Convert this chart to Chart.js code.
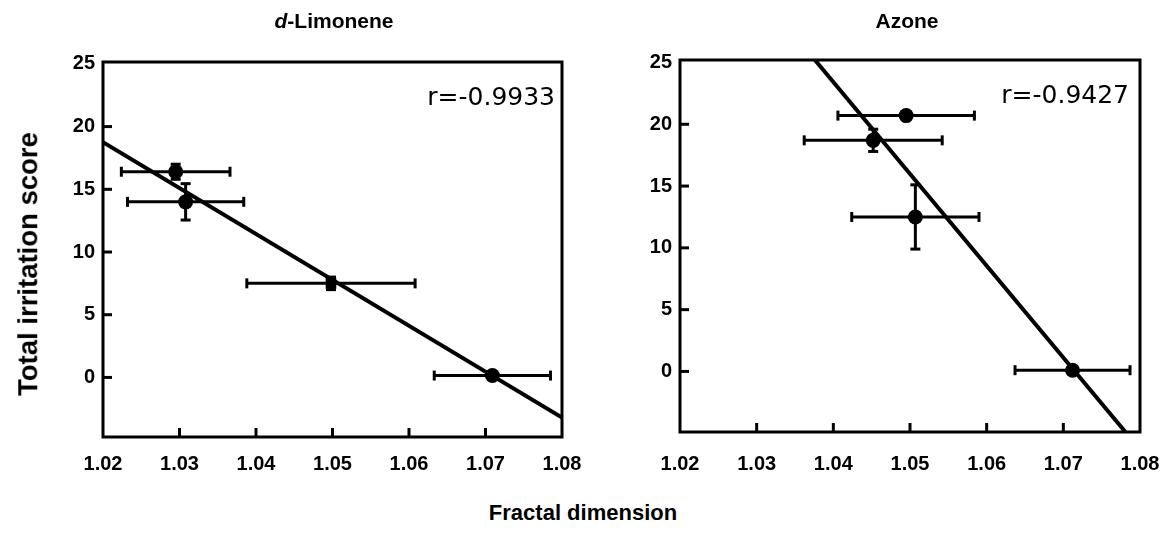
<!DOCTYPE html>
<html><head><meta charset="utf-8">
<script src="https://cdn.jsdelivr.net/npm/chart.js@4"></script>
<style>
body{margin:0;background:#fff;width:1164px;height:547px;position:relative;overflow:hidden;font-family:"Liberation Sans",Arial,sans-serif;color:#000;}
canvas{position:absolute;top:0;}
.t{position:absolute;white-space:nowrap;transform:translate(-50%,-50%);line-height:1;font-weight:bold;}
</style></head><body>
<canvas id="c1" width="582" height="500" style="left:0px"></canvas>
<canvas id="c2" width="582" height="500" style="left:582px"></canvas>
<div class="t" style="left:334px;top:20px;font-size:21px;"><i>d</i>-Limonene</div>
<div class="t" style="left:907px;top:20px;font-size:21px;">Azone</div>
<div class="t" style="left:28px;top:264px;font-size:27.5px;transform:translate(-50%,-50%) rotate(-90deg);">Total irritation score</div>
<div class="t" style="left:583px;top:513px;font-size:22px;">Fractal dimension</div>
<script>
// ---- data ----
const xTickValues = [1.02, 1.03, 1.04, 1.05, 1.06, 1.07, 1.08];
const yTickValues = [0, 5, 10, 15, 20, 25];

const limX    = [1.0295, 1.0308, 1.0498, 1.0709];
const limY    = [16.4, 14.0, 7.5, 0.15];
const limXErr = [0.0071, 0.0076, 0.011, 0.0076];
const limYErr = [0.6, 1.45, 0.5, 0];
const limFitX = [1.02, 1.08];
const limFitY = [18.75, -3.2];
const limR    = 'r=-0.9933';

const azoX    = [1.0495, 1.0452, 1.0507, 1.0712];
const azoY    = [20.7, 18.7, 12.5, 0.1];
const azoXErr = [0.0089, 0.009, 0.0083, 0.0075];
const azoYErr = [0.3, 0.9, 2.6, 0];
const azoFitX = [1.0376, 1.0781];
const azoFitY = [25.2, -4.9];
const azoR    = 'r=-0.9427';

// ---- plugin: frame, inward ticks, error bars, r label ----
const decor = {
  id: 'decor',
  beforeDatasetsDraw(chart) {
    const o = chart.options.plugins.decor;
    const {ctx, scales: {x, y}} = chart;
    ctx.save();
    ctx.strokeStyle = '#000'; ctx.lineWidth = 3; ctx.lineCap = 'butt';
    const ln = (a, b, c, d) => { ctx.beginPath(); ctx.moveTo(a, b); ctx.lineTo(c, d); ctx.stroke(); };
    o.xs.forEach((xv, i) => {
      const px = x.getPixelForValue(xv), py = y.getPixelForValue(o.ys[i]);
      const x0 = x.getPixelForValue(xv - o.xe[i]), x1 = x.getPixelForValue(xv + o.xe[i]);
      ln(x0, py, x1, py); ln(x0, py - 5, x0, py + 5); ln(x1, py - 5, x1, py + 5);
      if (o.ye[i] > 0) {
        const y0 = y.getPixelForValue(o.ys[i] - o.ye[i]), y1 = y.getPixelForValue(o.ys[i] + o.ye[i]);
        ln(px, y0, px, y1); ln(px - 5, y0, px + 5, y0); ln(px - 5, y1, px + 5, y1);
      }
    });
    ctx.restore();
  },
  afterDraw(chart) {
    const o = chart.options.plugins.decor;
    const {ctx, chartArea: a, scales: {x, y}} = chart;
    ctx.save();
    ctx.strokeStyle = '#000'; ctx.lineWidth = 3;
    ctx.strokeRect(a.left, a.top, a.right - a.left, a.bottom - a.top);
    const ln = (p, q, r, s) => { ctx.beginPath(); ctx.moveTo(p, q); ctx.lineTo(r, s); ctx.stroke(); };
    yTickValues.forEach(v => { const py = y.getPixelForValue(v); if (py > a.top + 3 && py < a.bottom - 3) ln(a.left, py, a.left + 9, py); });
    xTickValues.forEach(v => { const px = x.getPixelForValue(v); if (px > a.left + 3 && px < a.right - 3) ln(px, a.bottom, px, a.bottom - 9); });
    ctx.fillStyle = '#000';
    ctx.font = '25px "DejaVu Sans"';
    ctx.textAlign = 'right'; ctx.textBaseline = 'middle';
    ctx.fillText(o.r, a.right - o.rdx, a.top + 36);
    ctx.restore();
  }
};

function makeChart(id, xs, ys, xe, ye, fx, fy, r, yMin, yMax, areaLeft, areaRight, areaTop, areaBottom, rdx, xPad, styles) {
  const W = 582, H = 500;
  return new Chart(document.getElementById(id), {
    type: 'scatter',
    data: {
      datasets: [
        { data: xs.map((v, i) => ({x: v, y: ys[i]})), backgroundColor: '#000', borderColor: '#000',
          pointRadius: 7.5, pointStyle: styles, borderWidth: 0 },
        { type: 'line', data: fx.map((v, i) => ({x: v, y: fy[i]})), borderColor: '#000', borderWidth: 4,
          pointRadius: 0, fill: false, tension: 0 }
      ]
    },
    options: {
      responsive: false, animation: false, devicePixelRatio: 1,
      layout: { padding: { left: 0, right: W - areaRight, top: areaTop, bottom: H - areaBottom - 50 } },
      plugins: { legend: { display: false }, tooltip: { enabled: false }, title: { display: false },
        decor: { xs, ys, xe, ye, r, rdx } },
      scales: {
        x: { type: 'linear', min: 1.02, max: 1.08, offset: false,
          afterBuildTicks: s => { s.ticks = xTickValues.map(v => ({value: v})); },
          afterFit: s => { s.height = 50; s.paddingLeft = 0; s.paddingRight = 0; },
          grid: { display: false, drawTicks: false }, border: { display: false },
          ticks: { autoSkip: false, maxRotation: 0, padding: xPad, color: '#000',
            font: { family: 'Liberation Sans', size: 20, weight: 'bold' },
            callback: v => Number(v).toFixed(2) } },
        y: { type: 'linear', min: yMin, max: yMax,
          afterBuildTicks: s => { s.ticks = yTickValues.map(v => ({value: v})); },
          afterFit: s => { s.width = areaLeft; s.paddingTop = 0; s.paddingBottom = 0; },
          grid: { display: false, drawTicks: false }, border: { display: false },
          ticks: { padding: 8, color: '#000', font: { family: 'Liberation Sans', size: 20, weight: 'bold' },
            callback: v => String(v) } }
      }
    },
    plugins: [decor]
  });
}

makeChart('c1', limX, limY, limXErr, limYErr, limFitX, limFitY, limR, -4.75, 25.15, 103, 562, 62, 437, 7, 15,
  ['circle', 'circle', 'rect', 'circle']);
makeChart('c2', azoX, azoY, azoXErr, azoYErr, azoFitX, azoFitY, azoR, -4.9, 25.2, 98, 558, 60, 432, 11, 20,
  'circle');
</script>
</body></html>
